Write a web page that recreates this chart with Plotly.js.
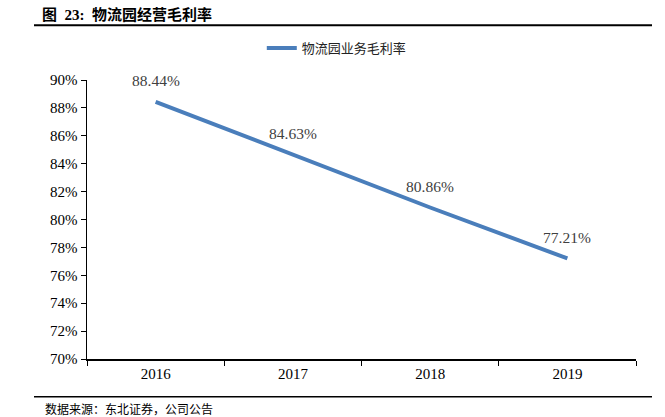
<!DOCTYPE html>
<html>
<head>
<meta charset="utf-8">
<script src="https://cdn.plot.ly/plotly-3.0.1.min.js"></script>
<style>html,body{margin:0;padding:0;background:#fff;}#chart{width:665px;height:417px;}</style>
</head>
<body>
<div id="chart"></div>
<script>
const years = ['2016', '2017', '2018', '2019'];
const margin = [88.44, 84.63, 80.86, 77.21];
const seriesName = '物流园业务毛利率';
const yTicks = [70, 72, 74, 76, 78, 80, 82, 84, 86, 88, 90];
const chartTitle = '图  23:  物流园经营毛利率';
const sourceText = '数据来源：东北证券，公司公告';

const serif = 'Liberation Serif, Times New Roman, serif';
const cjk = 'Noto Sans CJK SC, sans-serif';

const trace = {
  x: years, y: margin, type: 'scatter', mode: 'lines', name: seriesName,
  line: {color: '#4a7ebb', width: 4}, hoverinfo: 'skip'
};

const annotations = years.map((yr, i) => ({
  x: i, y: margin[i], xref: 'x', yref: 'y', text: margin[i].toFixed(2) + '%',
  showarrow: false, yshift: 21, font: {family: serif, size: 15.5, color: '#404040'}
}));
annotations.push({
  xref: 'paper', yref: 'paper', x: (40 - 87) / 549, y: (359 - 13) / 280,
  xanchor: 'left', yanchor: 'middle', showarrow: false,
  text: '<b>' + chartTitle + '</b>', font: {family: 'Liberation Serif, Noto Sans CJK SC, serif', size: 15, color: '#000'}
});
annotations.push({
  xref: 'paper', yref: 'paper', x: (43 - 87) / 549, y: (359 - 409) / 280,
  xanchor: 'left', yanchor: 'middle', showarrow: false,
  text: sourceText, font: {family: cjk, size: 12, color: '#000'}
});

const layout = {
  width: 665, height: 417,
  margin: {l: 87, r: 29, t: 80, b: 58, pad: 0},
  paper_bgcolor: '#fff', plot_bgcolor: '#fff',
  showlegend: true,
  legend: {orientation: 'h', x: 0.455, xanchor: 'center', y: (359 - 47) / 280, yanchor: 'middle',
    font: {family: cjk, size: 13, color: '#222'}, itemwidth: 30, bgcolor: 'rgba(0,0,0,0)'},
  xaxis: {
    type: 'category', showgrid: false, zeroline: false, showline: true, linecolor: '#000', linewidth: 1.5,
    ticks: 'outside', ticklen: 5, tickcolor: '#000', tickson: 'boundaries',
    tickfont: {family: serif, size: 15, color: '#000'}, range: [-0.5, 3.5], fixedrange: true
  },
  yaxis: {
    range: [70, 90], tickvals: yTicks, ticktext: yTicks.map(v => v + '%'),
    showgrid: false, zeroline: false, showline: true, linecolor: '#000', linewidth: 1.5,
    ticks: 'outside', ticklen: 5, tickcolor: '#000',
    tickfont: {family: serif, size: 15, color: '#000'}, fixedrange: true
  },
  annotations: annotations,
  shapes: [
    {type: 'line', xref: 'paper', yref: 'paper', x0: (34 - 87) / 549, x1: (652 - 87) / 549,
      y0: (359 - 24) / 280, y1: (359 - 24) / 280, line: {color: '#000', width: 2}},
    {type: 'line', xref: 'paper', yref: 'paper', x0: (34 - 87) / 549, x1: (652 - 87) / 549,
      y0: (359 - 397) / 280, y1: (359 - 397) / 280, line: {color: '#000', width: 1.5}}
  ]
};

Plotly.newPlot('chart', [trace], layout, {displayModeBar: false, staticPlot: true});
</script>
</body>
</html>
